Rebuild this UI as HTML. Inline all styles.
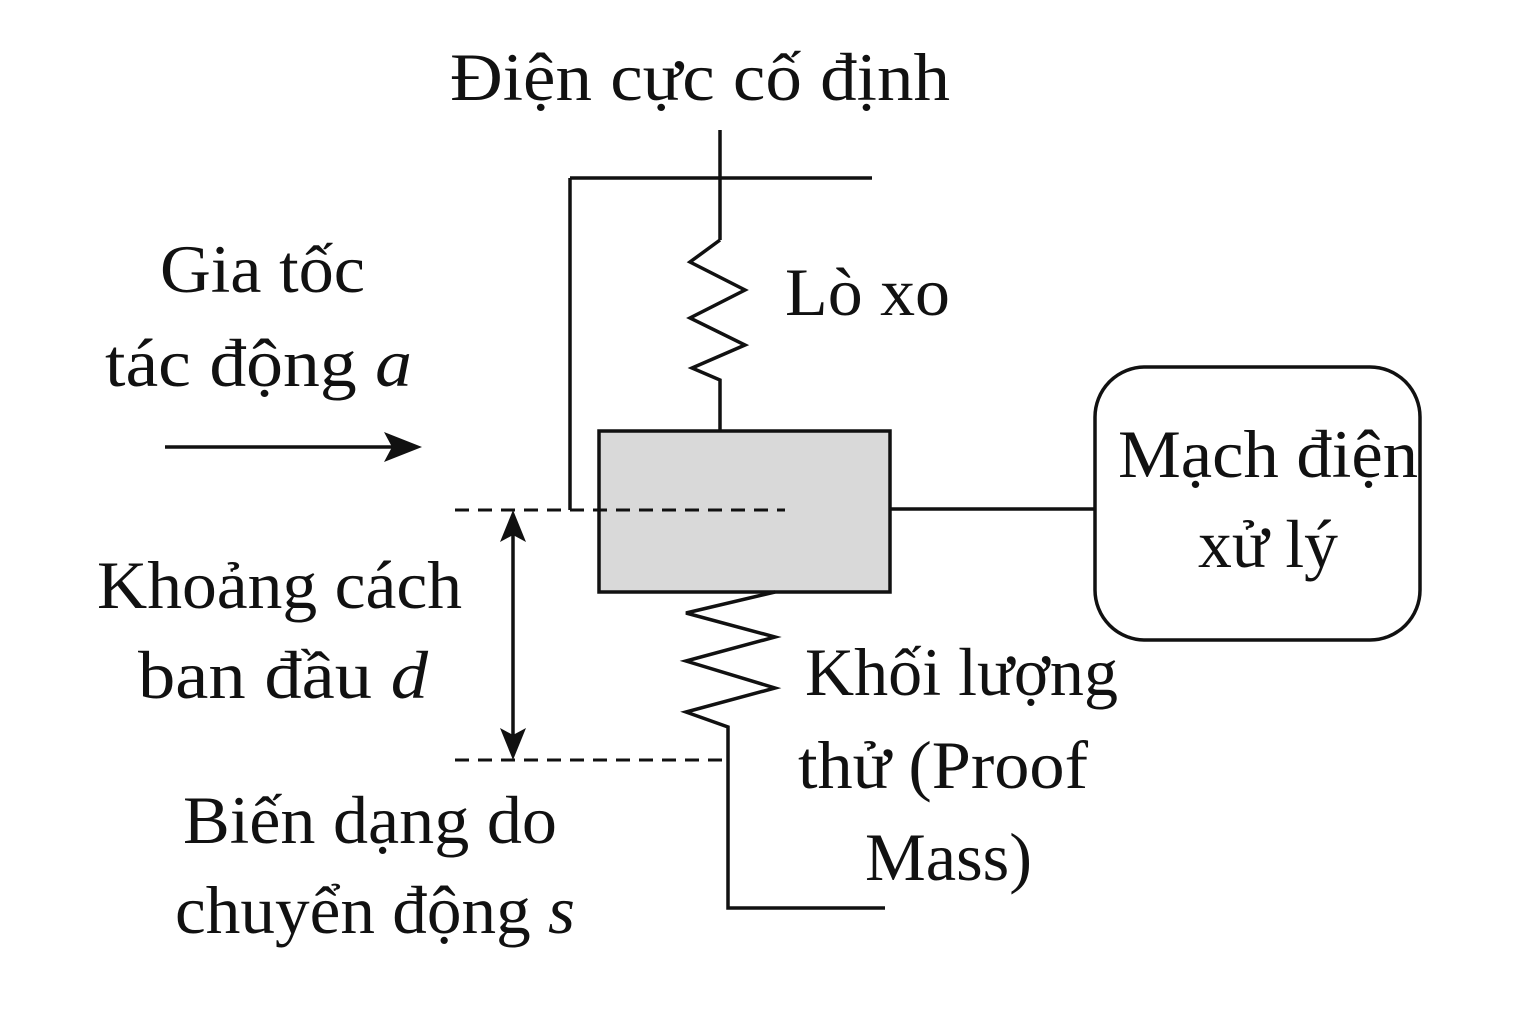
<!DOCTYPE html>
<html><head><meta charset="utf-8"><style>
html,body{margin:0;padding:0;background:#fff;}
svg text{font-family:"Liberation Serif","DejaVu Serif",serif;font-size:68px;fill:#111;}
</style></head><body>
<svg width="1536" height="1024" viewBox="0 0 1536 1024">
<g stroke="#111" stroke-width="3.5" fill="none">
<line x1="720" y1="130" x2="720" y2="240"/>
<line x1="570" y1="178" x2="872" y2="178"/>
<line x1="570" y1="178" x2="570" y2="510"/>
<polyline points="720,240 690,262 745,290 690,318 745,345 692,368 720,380 720,430"/>
<rect x="599" y="431" width="291" height="161" fill="#d9d9d9"/>
<line x1="455" y1="510" x2="785" y2="510" stroke-dasharray="14,9" stroke-width="3"/>
<line x1="890" y1="509" x2="1095" y2="509"/>
<rect x="1095" y="367" width="325" height="273" rx="50"/>
<polyline points="775,592 686,613 775,637 686,661 775,688 686,712 728,727 728,908 885,908"/>
<line x1="455" y1="760" x2="728" y2="760" stroke-dasharray="14,9" stroke-width="3"/>
<line x1="513" y1="525" x2="513" y2="745"/>
<line x1="165" y1="447" x2="400" y2="447"/>
</g>
<polygon points="422,447 384,432 392,447 384,462" fill="#111"/>
<polygon points="513,510 500,542 513,535 526,542" fill="#111"/>
<polygon points="513,760 500,728 513,735 526,728" fill="#111"/>
<text x="450" y="100" textLength="500" lengthAdjust="spacingAndGlyphs">Điện cực cố định</text>
<text x="785" y="315" textLength="165" lengthAdjust="spacingAndGlyphs">Lò xo</text>
<text x="160" y="292" textLength="205" lengthAdjust="spacingAndGlyphs">Gia tốc</text>
<text x="105" y="386" textLength="307" lengthAdjust="spacingAndGlyphs">tác động <tspan font-style="italic">a</tspan></text>
<text x="1118" y="477" textLength="300" lengthAdjust="spacingAndGlyphs">Mạch điện</text>
<text x="1198" y="567" textLength="140" lengthAdjust="spacingAndGlyphs">xử lý</text>
<text x="97" y="608" textLength="365" lengthAdjust="spacingAndGlyphs">Khoảng cách</text>
<text x="138" y="698" textLength="290" lengthAdjust="spacingAndGlyphs">ban đầu <tspan font-style="italic">d</tspan></text>
<text x="805" y="695" textLength="313" lengthAdjust="spacingAndGlyphs">Khối lượng</text>
<text x="798" y="788" textLength="290" lengthAdjust="spacingAndGlyphs">thử (Proof</text>
<text x="865" y="880" textLength="167" lengthAdjust="spacingAndGlyphs">Mass)</text>
<text x="183" y="843" textLength="374" lengthAdjust="spacingAndGlyphs">Biến dạng do</text>
<text x="175" y="933" textLength="400" lengthAdjust="spacingAndGlyphs">chuyển động <tspan font-style="italic">s</tspan></text>
</svg>
</body></html>
